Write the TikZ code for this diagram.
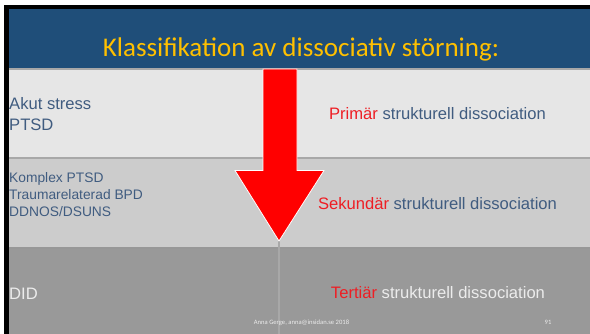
\documentclass[tikz,border=0pt]{standalone}
\usepackage{fontspec}
\setmainfont{Liberation Sans}
\newfontfamily\titlefont{Carlito}
\usetikzlibrary{positioning}
\definecolor{slideblue}{RGB}{31,78,121}
\definecolor{titlegold}{RGB}{255,192,0}
\definecolor{textblue}{RGB}{64,92,128}
\definecolor{markred}{RGB}{238,30,36}
\definecolor{rowone}{RGB}{230,230,230}
\definecolor{rowtwo}{RGB}{204,204,204}
\definecolor{rowthree}{RGB}{153,153,153}
\definecolor{rowline}{RGB}{168,168,168}
\definecolor{lighttext}{RGB}{236,236,236}

\begin{document}
\begin{tikzpicture}[x=1pt, y=-1pt,
    lefttext/.style={anchor=base west, inner sep=0pt, align=left, text=textblue},
    righttext/.style={anchor=base, inner sep=0pt, text=textblue,
                      font=\fontsize{16.6}{20}\selectfont},
    footer/.style={anchor=base, inner sep=0pt, text=lighttext,
                   font=\titlefont\fontsize{6.6}{8}\selectfont}]
    % page and slide
    \useasboundingbox (0,0) rectangle (590,334);
    \fill[white] (0,0) rectangle (590,334);
    \fill[black] (4,5) rectangle (590,334);
    \fill[slideblue] (9,9) rectangle (590,68);
    \fill[rowline] (9,68) rectangle (590,70);
    \fill[rowone] (9,70) rectangle (590,157);
    \fill[rowline] (9,157) rectangle (590,159);
    \fill[rowtwo] (9,159) rectangle (590,247);
    \fill[rowline!90!black] (9,247) rectangle (590,249);
    \fill[rowthree] (9,249) rectangle (590,334);

    % title
    \node[anchor=base, inner sep=0pt, text=titlegold,
          font=\titlefont\fontsize{27}{30}\selectfont] (titel) at (301,57)
          {Klassifikation av dissociativ störning:};

    % arrow
    \coordinate (spets) at (279,241);
    \coordinate (botten) at (279,334);
    \draw[rowline, line width=1.5pt] (spets) -- (botten);
    \filldraw[fill=red, draw=white, line width=0.8pt]
        (263,69) -- (297,69) -- (297,170.5) -- (324,170.5) -- (spets)
        -- (235,170.5) -- (263,170.5) -- cycle;

    % left column (base = last line)
    \node[lefttext, font=\fontsize{16.6}{21}\selectfont] (akut) at (9,131)
          {Akut stress\\PTSD};
    \node[lefttext, font=\fontsize{13.8}{17}\selectfont] (komplex) at (9,217)
          {Komplex PTSD\\Traumarelaterad BPD\\DDNOS/DSUNS};
    \node[lefttext, text=lighttext, font=\fontsize{16.6}{21}\selectfont] (did) at (9,300)
          {DID};

    % right column
    \node[righttext] (primar) at (437.5,120)
          {\textcolor{markred}{Primär} strukturell dissociation};
    \node[righttext] (sekundar) at (437.5,210)
          {\textcolor{markred}{Sekundär} strukturell dissociation};
    \node[righttext, text=lighttext] (tertiar) at (438,299)
          {\textcolor{markred}{Tertiär} strukturell dissociation};

    % footer
    \node[footer] (fot) at (301.5,325) {Anna Gerge, anna@insidan.se 2018};
    \node[footer] (sidnr) at (548,325) {91};
\end{tikzpicture}
\end{document}
